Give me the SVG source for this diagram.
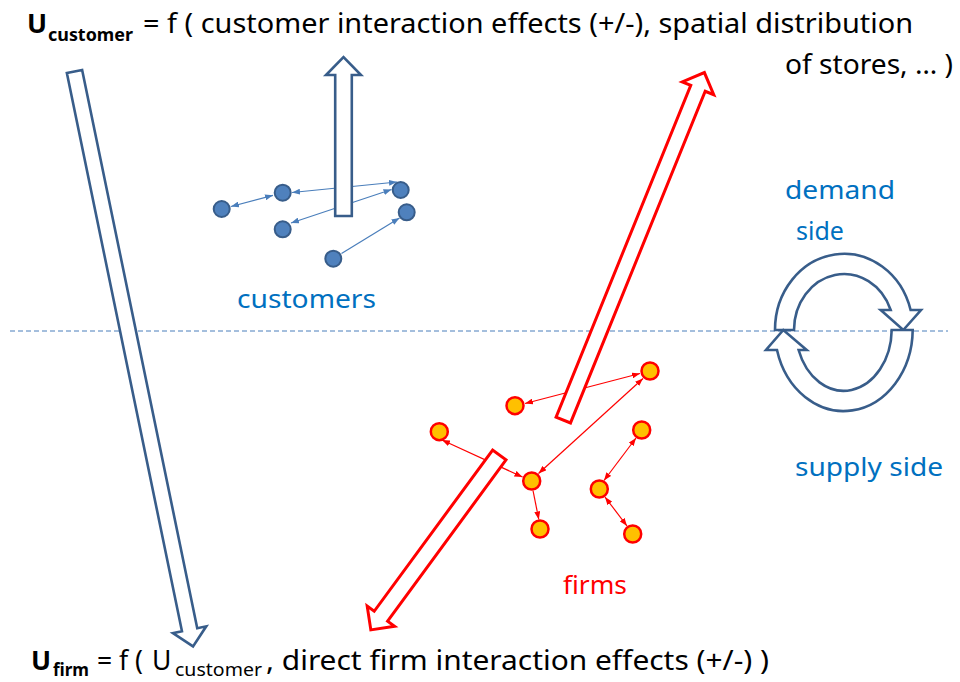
<svg xmlns="http://www.w3.org/2000/svg" width="960" height="682" viewBox="0 0 960 682">
  <style>
    .t { font-family: "Noto Sans", "Open Sans", sans-serif; fill: #000; }
    .b { font-weight: bold; }
    .lbl-blue { font-family: "Noto Sans", "Open Sans", sans-serif; fill: #0070C0; font-size: 25px; }
    .lbl-red { font-family: "Noto Sans", "Open Sans", sans-serif; fill: #FF0000; font-size: 25px; }
    .big-blue { fill: #fff; stroke: #385D8A; stroke-width: 2.6; stroke-linejoin: miter; }
    .big-red { fill: #fff; stroke: #FF0000; stroke-width: 3; stroke-linejoin: miter; }
    .cust { fill: #4F81BD; stroke: #385D8A; stroke-width: 2; }
    .firm { fill: #FFC000; stroke: #FF0000; stroke-width: 2.5; }
    .ln-blue { stroke: #4A7EBB; stroke-width: 1.2; fill: none; }
    .ln-red { stroke: #FF0000; stroke-width: 1.2; fill: none; }
    .split { stroke: #4A7EBB; stroke-width: 1; stroke-dasharray: 5 3; fill: none; }
  </style>
  <defs>
    <marker id="hb" viewBox="0 0 8 6" refX="8" refY="3" markerWidth="8" markerHeight="6" markerUnits="userSpaceOnUse" orient="auto-start-reverse">
      <path d="M0,0 L8,3 L0,6 z" fill="#4A7EBB"/>
    </marker>
    <marker id="hr" viewBox="0 0 8 6" refX="8" refY="3" markerWidth="8" markerHeight="6" markerUnits="userSpaceOnUse" orient="auto-start-reverse">
      <path d="M0,0 L8,3 L0,6 z" fill="#FF0000"/>
    </marker>
  </defs>

  <!-- demand / supply divider -->
  <line class="split" x1="10" y1="331" x2="948" y2="331"/>

  <!-- interaction connectors -->
  <g id="connectors">
    <line class="ln-blue" x1="231" y1="206.5" x2="273" y2="195.3" marker-start="url(#hb)" marker-end="url(#hb)"/>
    <line class="ln-blue" x1="292" y1="192.5" x2="397" y2="182" marker-start="url(#hb)" marker-end="url(#hb)"/>
    <line class="ln-blue" x1="291" y1="223" x2="391.5" y2="189.5" marker-start="url(#hb)" marker-end="url(#hb)"/>
    <line class="ln-blue" x1="341.5" y1="253.5" x2="399.5" y2="218" marker-end="url(#hb)"/>

    <line class="ln-red" x1="640" y1="373.5" x2="525" y2="403.5" marker-start="url(#hr)" marker-end="url(#hr)"/>
    <line class="ln-red" x1="643" y1="378.5" x2="538.5" y2="473.5" marker-start="url(#hr)" marker-end="url(#hr)"/>
    <line class="ln-red" x1="442" y1="440" x2="522.5" y2="477" marker-start="url(#hr)" marker-end="url(#hr)"/>
    <line class="ln-red" x1="533" y1="490.5" x2="538.8" y2="519.5" marker-end="url(#hr)"/>
    <line class="ln-red" x1="636" y1="438" x2="604" y2="480.5" marker-start="url(#hr)" marker-end="url(#hr)"/>
    <line class="ln-red" x1="605" y1="497" x2="627" y2="526" marker-start="url(#hr)" marker-end="url(#hr)"/>
  </g>

  <!-- block arrows: customer utility feeds firm utility, firms feed back -->
  <g id="arrow-customer-to-firm">
    <polygon class="big-blue" transform="translate(74.5,71.5) rotate(-11.65)" points="-7.8,0 -7.8,570 -17,570 0,587 17,570 7.8,570 7.8,0"/>
  </g>
  <g id="arrow-customers-up">
    <polygon class="big-blue" transform="translate(343.5,216) rotate(180)" points="-8.3,0 -8.3,141 -17.5,141 0,159 17.5,141 8.3,141 8.3,0"/>
  </g>
  <g id="arrow-firms-up">
    <polygon class="big-red" transform="translate(563.3,420) rotate(202.1)" points="-7.8,0 -7.8,358 -17,358 0,375 17,358 7.8,358 7.8,0"/>
  </g>
  <g id="arrow-firms-down">
    <polygon class="big-red" transform="translate(499.3,455) rotate(36.3)" points="-8.3,0 -8.3,200 -17,200 0,217 17,200 8.3,200 8.3,0"/>
  </g>

  <!-- demand/supply cycle -->
  <g id="cycle">
    <path class="big-blue" d="M775,330 A69,76 0 0 1 910.6,310 L921,310 L903.3,330 L880.7,310 L890.7,310 A50,56 0 0 0 794,330 Z"/>
    <path class="big-blue" d="M912.7,330 A69,82 0 0 1 777,350 L766,350 L783.3,330 L806.7,350 L798.6,350 A48,62 0 0 0 891.7,330 Z"/>
  </g>

  <!-- customers -->
  <g id="customer-1"><circle class="cust" cx="221.7" cy="209" r="8"/></g>
  <g id="customer-2"><circle class="cust" cx="282.7" cy="192.7" r="8"/></g>
  <g id="customer-3"><circle class="cust" cx="282.7" cy="229.3" r="8"/></g>
  <g id="customer-4"><circle class="cust" cx="400.7" cy="190" r="8"/></g>
  <g id="customer-5"><circle class="cust" cx="406.7" cy="212.3" r="8"/></g>
  <g id="customer-6"><circle class="cust" cx="333.3" cy="258.7" r="8"/></g>

  <!-- firms -->
  <g id="firm-a"><circle class="firm" cx="650" cy="371" r="8.5"/></g>
  <g id="firm-b"><circle class="firm" cx="515" cy="405.7" r="8.5"/></g>
  <g id="firm-c"><circle class="firm" cx="439.3" cy="431.7" r="8.5"/></g>
  <g id="firm-d"><circle class="firm" cx="531.7" cy="481" r="8.5"/></g>
  <g id="firm-e"><circle class="firm" cx="540" cy="529" r="8.5"/></g>
  <g id="firm-f"><circle class="firm" cx="641.7" cy="430" r="8.5"/></g>
  <g id="firm-g"><circle class="firm" cx="599.3" cy="489" r="8.5"/></g>
  <g id="firm-h"><circle class="firm" cx="632.7" cy="534" r="8.5"/></g>

  <!-- labels -->
  <g id="labels">
    <text class="lbl-blue" x="237" y="308" textLength="139" lengthAdjust="spacingAndGlyphs">customers</text>
    <text class="lbl-blue" x="785" y="199" font-size="26" textLength="110" lengthAdjust="spacingAndGlyphs">demand</text>
    <text class="lbl-blue" x="820" y="240" font-size="26" text-anchor="middle">side</text>
    <text class="lbl-blue" x="795" y="476" textLength="148" lengthAdjust="spacingAndGlyphs">supply side</text>
    <text class="lbl-red" x="563" y="594" textLength="64" lengthAdjust="spacingAndGlyphs">firms</text>
  </g>

  <!-- customer utility -->
  <g id="eq-customer">
    <text class="t b" x="27" y="33" font-size="26.5">U</text>
    <text class="t b" x="48" y="41" font-size="18" textLength="85" lengthAdjust="spacingAndGlyphs">customer</text>
    <text class="t" x="143" y="33" font-size="26.5" textLength="770" lengthAdjust="spacingAndGlyphs">= f ( customer interaction effects (+/-), spatial distribution</text>
    <text class="t" x="785" y="74" font-size="26.5" textLength="168" lengthAdjust="spacingAndGlyphs">of stores, … )</text>
  </g>

  <!-- firm utility -->
  <g id="eq-firm">
    <text class="t b" x="31" y="670" font-size="26.5">U</text>
    <text class="t b" x="53" y="676" font-size="18" textLength="36" lengthAdjust="spacingAndGlyphs">firm</text>
    <text class="t" x="97" y="670" font-size="26.5" textLength="46" lengthAdjust="spacingAndGlyphs">= f (</text>
    <text class="t" x="152" y="670" font-size="26.5">U</text>
    <text class="t" x="175" y="676" font-size="18" textLength="87" lengthAdjust="spacingAndGlyphs">customer</text>
    <text class="t" x="266" y="670" font-size="26.5" textLength="503" lengthAdjust="spacingAndGlyphs">, direct firm interaction effects (+/-) )</text>
  </g>
</svg>
